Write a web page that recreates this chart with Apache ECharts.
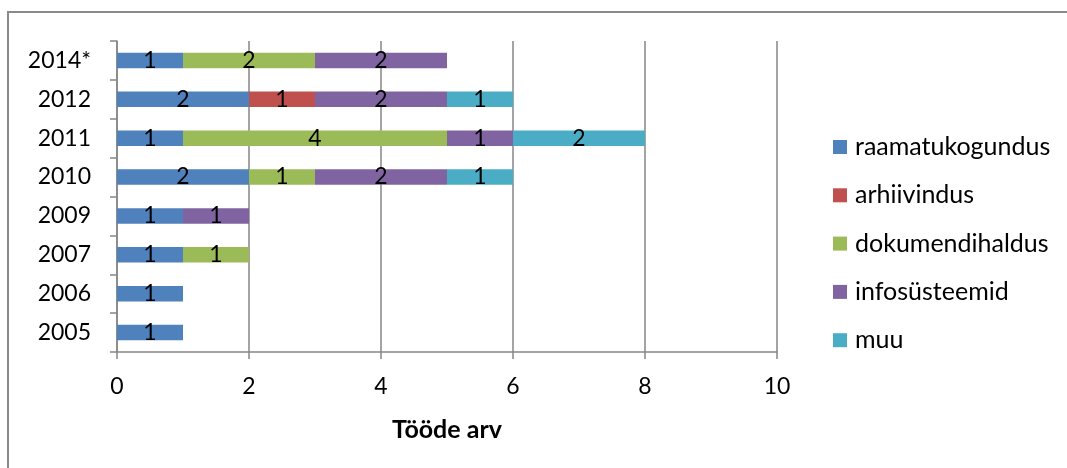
<!DOCTYPE html>
<html>
<head>
<meta charset="utf-8">
<script src="https://cdn.jsdelivr.net/npm/echarts@6/dist/echarts.min.js"></script>
<style>html,body{margin:0;padding:0;background:#fff}#c{width:1067px;height:468px}</style>
</head>
<body>
<div id="c"></div>
<script>
const categories = ['2005', '2006', '2007', '2009', '2010', '2011', '2012', '2014*'];
const raamatukogundus = [1, 1, 1, 1, 2, 1, 2, 1];
const arhiivindus     = [0, 0, 0, 0, 0, 0, 1, 0];
const dokumendihaldus = [0, 0, 1, 0, 1, 4, 0, 2];
const infosysteemid   = [0, 0, 0, 1, 2, 1, 2, 2];
const muu             = [0, 0, 0, 0, 1, 2, 1, 0];
const seriesNames = ['raamatukogundus', 'arhiivindus', 'dokumendihaldus', 'infosüsteemid', 'muu'];
const seriesData = [raamatukogundus, arhiivindus, dokumendihaldus, infosysteemid, muu];
const colors = ['#4F81BD', '#C0504D', '#9BBB59', '#8064A2', '#4BACC6'];
const xTicks = { min: 0, max: 10, interval: 2 };
const axisTitle = 'Tööde arv';

const FONT = 'Lato';
const GRAY = '#868686';
const chart = echarts.init(document.getElementById('c'), null, { renderer: 'canvas' });
chart.setOption({
  animation: false,
  backgroundColor: '#fff',
  color: colors,
  textStyle: { fontFamily: FONT },
  graphic: [{
    type: 'rect', silent: true, z: -1,
    shape: { x: 8, y: 12, width: 1200, height: 600 },
    style: { fill: 'none', stroke: '#8a8a8a', lineWidth: 2 }
  }],
  grid: { left: 117, right: 290, top: 41, bottom: 116, containLabel: false },
  legend: {
    orient: 'vertical', left: 833, top: 134.5, padding: 0,
    itemWidth: 14, itemHeight: 14, itemGap: 23.3,
    icon: 'rect',
    textStyle: { fontFamily: FONT, fontSize: 25, color: '#000', lineHeight: 25, padding: [0, 0, 0, 3] },
    data: seriesNames
  },
  xAxis: {
    type: 'value', min: xTicks.min, max: xTicks.max, interval: xTicks.interval,
    name: axisTitle, nameLocation: 'middle', nameGap: 65,
    nameTextStyle: { fontFamily: FONT, fontSize: 25, fontWeight: 'bold', color: '#000' },
    axisLine: { show: true, lineStyle: { color: GRAY, width: 1.5 } },
    axisTick: { show: true, length: 7, lineStyle: { color: GRAY, width: 1.5 } },
    axisLabel: { fontFamily: FONT, fontSize: 23, color: '#000', margin: 23 },
    splitLine: { show: true, lineStyle: { color: GRAY, width: 1.5 } }
  },
  yAxis: {
    type: 'category', data: categories,
    axisLine: { show: true, lineStyle: { color: GRAY, width: 1.5 } },
    axisTick: { show: true, length: 7, alignWithLabel: false, lineStyle: { color: GRAY, width: 1.5 } },
    axisLabel: { fontFamily: FONT, fontSize: 23, color: '#000', margin: 26 }
  },
  series: seriesNames.map((name, i) => ({
    name, type: 'bar', stack: 'total', barCategoryGap: '60%',
    data: seriesData[i],
    itemStyle: { color: colors[i] },
    label: {
      show: true, position: 'inside', color: '#000', fontFamily: FONT, fontSize: 23,
      formatter: p => (p.value ? String(p.value) : '')
    }
  }))
});
</script>
</body>
</html>
